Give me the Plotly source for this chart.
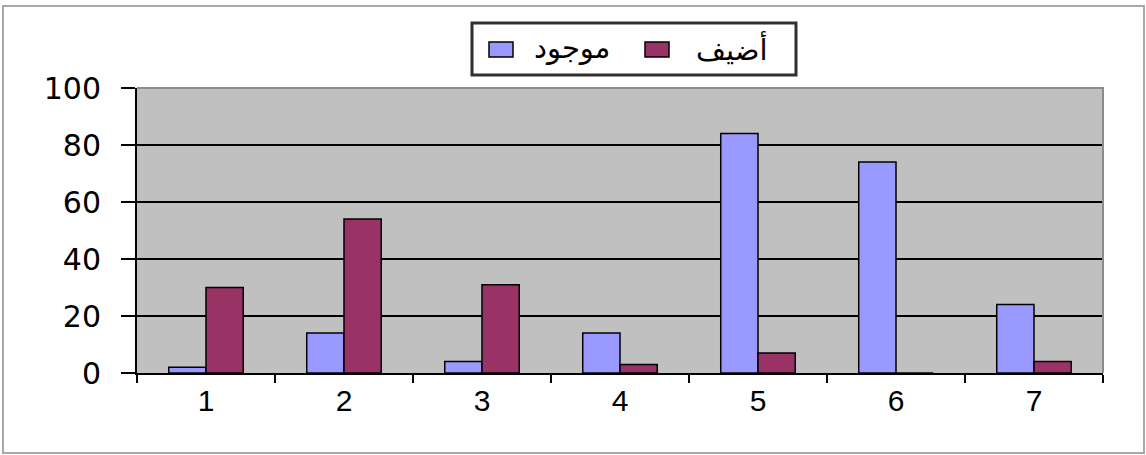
import plotly.graph_objects as go

categories = ["1", "2", "3", "4", "5", "6", "7"]
mawjud = [2, 14, 4, 14, 84, 74, 24]   # موجود
udif = [30, 54, 31, 3, 7, 0, 4]       # أضيف
series_names = ["موجود", "أضيف"]
series_colors = ["#9999FF", "#993366"]
y_ticks = [0, 20, 40, 60, 80, 100]

W, H = 1146, 455
ml, mr, mt, mb = 137, 43, 88, 82
pw, ph = W - ml - mr, H - mt - mb


def px_x(x):
    """Pixel x -> paper x."""
    return (x - ml) / pw


def px_y(y):
    """Pixel y (from top) -> paper y."""
    return (H - mb - y) / ph


fig = go.Figure()
for name, vals, col in zip(series_names, [mawjud, udif], series_colors):
    fig.add_trace(go.Bar(
        name=name, x=categories, y=vals,
        marker=dict(color=col, line=dict(color="black", width=1.5)),
        showlegend=False,
    ))

# outer frame around the whole chart
fig.add_shape(
    type="rect", xref="paper", yref="paper",
    x0=px_x(3), x1=px_x(1144), y0=px_y(453), y1=px_y(6),
    line=dict(color="#A8A8A8", width=2), layer="below",
)

# plot-area border on the top and right sides
fig.add_shape(
    type="path", xref="paper", yref="paper",
    path=f"M 0 1 L 1 1 L 1 0",
    line=dict(color="#8C8C8C", width=2), layer="above",
)

# legend box
fig.add_shape(
    type="rect", xref="paper", yref="paper",
    x0=px_x(472), x1=px_x(796), y0=px_y(75), y1=px_y(23),
    line=dict(color="#303030", width=3), fillcolor="white",
)
legend_items = [
    (489, 528, 615),   # swatch left, text left, text right
    (645, 687, 775),
]
for (sx, tx0, tx1), name, col in zip(legend_items, series_names, series_colors):
    fig.add_shape(
        type="rect", xref="paper", yref="paper",
        x0=px_x(sx), x1=px_x(sx + 24), y0=px_y(57), y1=px_y(42),
        line=dict(color="black", width=1.5), fillcolor=col,
    )
    fig.add_annotation(
        xref="paper", yref="paper",
        x=px_x((tx0 + tx1) / 2), y=px_y(48),
        xanchor="center", yanchor="middle",
        text=name, showarrow=False,
        font=dict(size=29, family="DejaVu Sans, sans-serif", color="black"),
    )

fig.update_layout(
    width=W, height=H,
    margin=dict(l=ml, r=mr, t=mt, b=mb),
    paper_bgcolor="white",
    plot_bgcolor="#C0C0C0",
    barmode="group",
    bargap=0.46,
    bargroupgap=0,
    font=dict(family="Liberation Sans, Arial, sans-serif", color="black"),
    showlegend=False,
    xaxis=dict(
        type="category",
        tickson="boundaries",
        ticks="outside", ticklen=8, tickwidth=1.5, tickcolor="black",
        showline=True, linecolor="black", linewidth=2,
        showgrid=False,
        tickfont=dict(size=30, family="Liberation Sans Narrow, Liberation Sans, sans-serif"),
        range=[-0.5, 6.5],
    ),
    yaxis=dict(
        range=[0, 100],
        tickvals=y_ticks,
        ticks="outside", ticklen=14, tickwidth=2, tickcolor="black",
        showline=True, linecolor="black", linewidth=2,
        showgrid=True, gridcolor="black", gridwidth=2,
        tickfont=dict(size=30, family="DejaVu Sans, sans-serif"),
        ticklabelstandoff=14,
        zeroline=False,
    ),
)

fig.write_html("out.html")
